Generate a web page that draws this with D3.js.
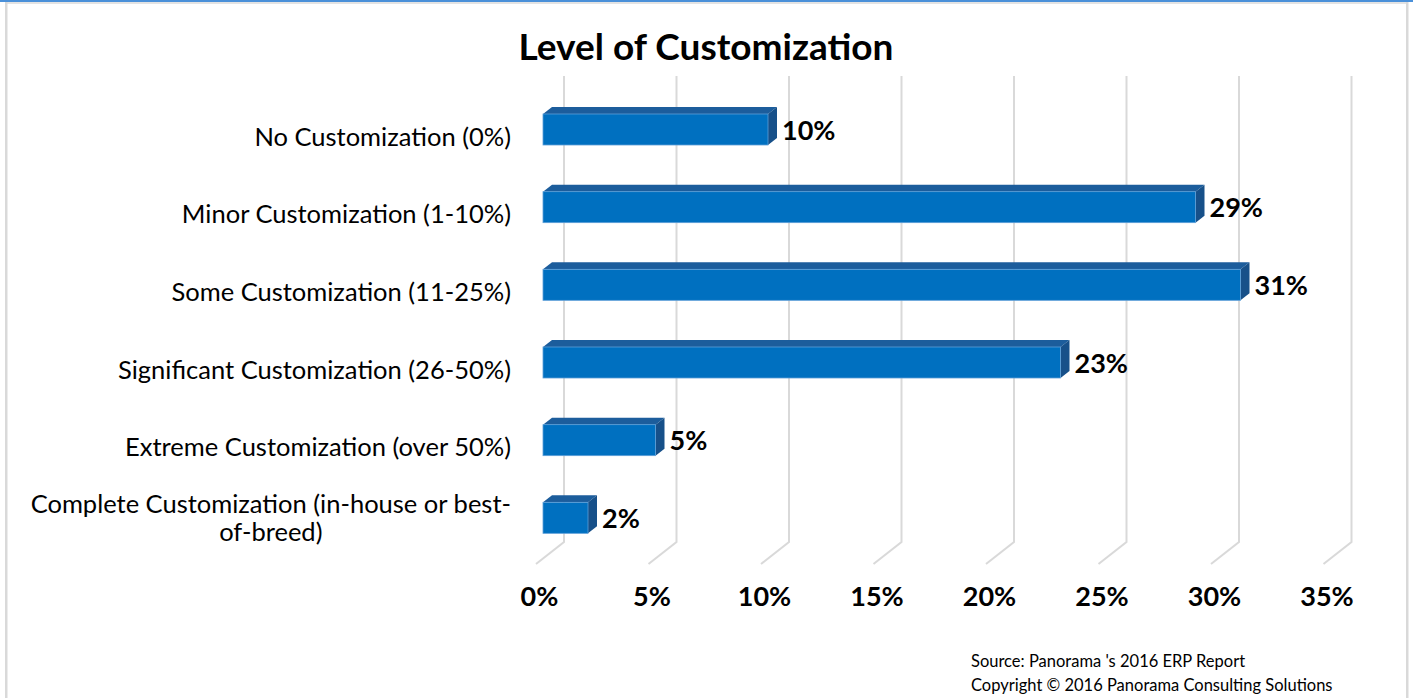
<!DOCTYPE html>
<html>
<head>
<meta charset="utf-8">
<script src="https://cdn.jsdelivr.net/npm/d3@7/dist/d3.min.js"></script>
<style>
  html, body { margin: 0; padding: 0; background: #ffffff; }
  svg { display: block; font-family: Lato, "Open Sans", sans-serif; }
</style>
</head>
<body>
<svg id="chart" width="1413" height="698"></svg>
<script>
// Survey results: share of ERP projects by level of customization
const categories = [
  "No Customization (0%)",
  "Minor Customization (1-10%)",
  "Some Customization (11-25%)",
  "Significant Customization (26-50%)",
  "Extreme Customization (over 50%)",
  "Complete Customization (in-house or best-of-breed)"
];
const values = [10, 29, 31, 23, 5, 2];
const tickValues = [0, 5, 10, 15, 20, 25, 30, 35];
const title = "Level of Customization";
const sourceLines = [
  "Source: Panorama 's 2016 ERP Report",
  "Copyright \u00A9 2016 Panorama Consulting Solutions"
];

const svg = d3.select("#chart");
const W = 1413, H = 698;

// frame of the chart area
svg.append("rect").attr("x", 0).attr("y", 0).attr("width", W).attr("height", 2).attr("fill", "#4a90d9");
svg.append("rect").attr("x", 5).attr("y", 2).attr("width", 1403).attr("height", 2).attr("fill", "#e3e3e3");
svg.append("rect").attr("x", 5).attr("y", 2).attr("width", 2.5).attr("height", H).attr("fill", "#d9d9d9");
svg.append("rect").attr("x", 1406).attr("y", 2).attr("width", 2.5).attr("height", H).attr("fill", "#d9d9d9");

// 3-D layout: back wall, floor depth, and bar depth
const backX0 = 564, wallTop = 76, wallBottom = 542;
const floorDx = -28, floorDy = 22;
const barX0 = 543, barDx = 9, barDy = -7, barH = 31;

const x = d3.scaleLinear().domain([0, 35]).range([0, 787.5]);
const y = d3.scaleBand().domain(categories).range([96, 562]).padding(0);

// gridlines on the back wall and floor
const grid = svg.append("g");
grid.selectAll("path").data(tickValues).join("path")
  .attr("d", d => {
    const gx = backX0 + x(d);
    return `M${gx},${wallTop}L${gx},${wallBottom}L${gx + floorDx},${wallBottom + floorDy}`;
  })
  .attr("fill", "none").attr("stroke", "#d9d9d9").attr("stroke-width", 2);

// axis labels along the front edge of the floor
const axis = d3.axisBottom(x)
  .tickValues(tickValues).tickSize(0).tickPadding(0).tickFormat(d => d + "%");
const axisG = svg.append("g")
  .attr("transform", `translate(${backX0 + floorDx + 3},587)`)
  .call(axis);
axisG.select(".domain").remove();
axisG.selectAll("text")
  .attr("font-family", "Lato, sans-serif").attr("font-size", 27).attr("font-weight", "bold")
  .attr("fill", "#000");

// bars: front face, top face, right side
const bars = svg.append("g").selectAll("g").data(categories).join("g");
bars.each(function(c, i) {
  const g = d3.select(this);
  const x0 = barX0, x1 = barX0 + x(values[i]);
  const y0 = y(c) + 18, y1 = y0 + barH;
  g.append("path")
    .attr("d", `M${x0},${y0}L${x0 + barDx},${y0 + barDy}L${x1 + barDx},${y0 + barDy}L${x1},${y0}Z`)
    .attr("fill", "#1c5d9c");
  g.append("path")
    .attr("d", `M${x1},${y0}L${x1 + barDx},${y0 + barDy}L${x1 + barDx},${y1 + barDy}L${x1},${y1}Z`)
    .attr("fill", "#175089");
  g.append("rect")
    .attr("x", x0).attr("y", y0).attr("width", x1 - x0).attr("height", barH)
    .attr("fill", "#0070c0").attr("stroke", "#5d9fd8").attr("stroke-width", 0.8);
  g.append("text")
    .attr("x", x1 + barDx + 5).attr("y", y0 + barH / 2 + 10)
    .attr("font-size", 27).attr("font-weight", "bold").attr("fill", "#000")
    .text(values[i] + "%");
});

// category labels, wrapped to fit the label column (wrapped lines centred)
const labelRight = 511, labelMax = 495, labelSize = 25.5;
const labels = svg.append("g");
const probe = svg.append("text").attr("font-size", labelSize).attr("visibility", "hidden");
const measure = s => { probe.text(s); return probe.node().getComputedTextLength(); };
categories.forEach((c, i) => {
  const tokens = c.split(/(?<=[\s-])/);
  const lines = [];
  let cur = "";
  tokens.forEach(tok => {
    const trial = cur + tok;
    if (cur && measure(trial.trimEnd()) > labelMax) {
      lines.push(cur.trimEnd());
      cur = tok;
    } else {
      cur = trial;
    }
  });
  lines.push(cur.trimEnd());
  const widest = d3.max(lines, measure);
  const multi = lines.length > 1;
  const t = labels.append("text")
    .attr("text-anchor", multi ? "middle" : "end")
    .attr("font-size", labelSize).attr("fill", "#000");
  const cy = y(c) + 18 + barH / 2;
  lines.forEach((ln, k) => {
    t.append("tspan").attr("x", multi ? labelRight - widest / 2 : labelRight)
      .attr("y", cy + 16 - (lines.length - 1) * 21 + k * 28)
      .text(ln);
  });
});
probe.remove();

// title
svg.append("text")
  .attr("x", 706).attr("y", 60).attr("text-anchor", "middle")
  .attr("font-size", 37).attr("font-weight", "bold").attr("fill", "#000")
  .text(title);

// source note
svg.append("g").selectAll("text").data(sourceLines).join("text")
  .attr("x", 971).attr("y", (d, i) => 667 + i * 24)
  .attr("font-size", 16.5).attr("fill", "#000")
  .text(d => d);
</script>
</body>
</html>
